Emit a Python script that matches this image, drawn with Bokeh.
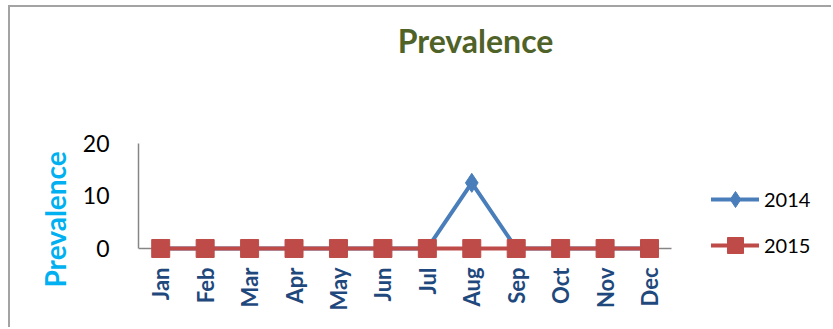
import math
from bokeh.plotting import figure
from bokeh.models import Range1d, FixedTicker, Legend, LegendItem, Title, Label
from bokeh.embed import file_html
from bokeh.resources import INLINE

months = ["Jan", "Feb", "Mar", "Apr", "May", "Jun", "Jul", "Aug", "Sep", "Oct", "Nov", "Dec"]
series_2014 = [0, 0, 0, 0, 0, 0, 0, 12.5, 0, 0, 0, 0]
series_2015 = [0, 0, 0, 0, 0, 0, 0, 0, 0, 0, 0, 0]
y_ticks = [0, 10, 20]
title_text = "Prevalence"
y_label = "Prevalence"

FONT = "Lato"
positions = list(range(len(months)))

# Frame covers the whole canvas right of the y axis so the title, the legend and the
# fixed-location x axis labels are drawn inside it.
p = figure(width=823, height=322, x_range=Range1d(-0.5, 15.14), y_range=Range1d(-15.43, 45.9),
           output_backend="svg", toolbar_location=None, title=None,
           min_border_left=128, min_border_right=0, min_border_top=0, min_border_bottom=0)
p.styles = {"border-left": "2px solid #a3a3a3", "border-top": "2px solid #a3a3a3",
            "margin-left": "8px", "margin-top": "5px"}
p.outline_line_color = None
p.grid.grid_line_color = None
p.background_fill_color = "white"
p.border_fill_color = "white"

# y axis
p.yaxis.ticker = FixedTicker(ticks=y_ticks)
p.yaxis.bounds = (0, 20)
p.yaxis.axis_line_color = "#868686"
p.yaxis.axis_line_width = 1.5
p.yaxis.major_tick_line_color = None
p.yaxis.minor_tick_line_color = None
p.yaxis.major_label_text_font = FONT
p.yaxis.major_label_text_font_size = "23px"
p.yaxis.major_label_text_color = "black"
p.yaxis.major_label_standoff = 23

p.add_layout(Title(text=y_label, align="left", offset=42, standoff=15,
                   text_font=FONT, text_font_size="28px", text_font_style="bold",
                   text_color="#00B0F0"), "left")

# x axis at y = 0
p.xaxis.ticker = FixedTicker(ticks=positions)
p.xaxis.major_label_overrides = {i: m for i, m in zip(positions, months)}
p.xaxis.fixed_location = 0
p.xaxis.bounds = (-0.5, len(months) - 0.5)
p.xaxis.level = "underlay"
p.xaxis.axis_line_color = "#868686"
p.xaxis.axis_line_width = 1.5
p.xaxis.major_tick_line_color = None
p.xaxis.minor_tick_line_color = None
p.xaxis.major_label_orientation = math.pi / 2
p.xaxis.major_label_text_font = FONT
p.xaxis.major_label_text_font_style = "bold"
p.xaxis.major_label_text_font_size = "22px"
p.xaxis.major_label_text_color = "#1F497D"
p.xaxis.major_label_standoff = 13

blue = "#4A7EBB"
red = "#BE4B48"
l1 = p.line(positions, series_2014, line_color=blue, line_width=4, line_cap="round", line_join="round")
m1 = p.scatter(positions, series_2014, marker="diamond", size=19, fill_color=blue, line_color=blue)
l2 = p.line(positions, series_2015, line_color=red, line_width=4, line_cap="round")
m2 = p.scatter(positions, series_2015, marker="square", size=18, fill_color=red, line_color=red)

legend = Legend(items=[LegendItem(label="2014", renderers=[l1, m1]),
                       LegendItem(label="2015", renderers=[l2, m2])],
                location=(573, 64), orientation="vertical",
                glyph_width=48, glyph_height=40, label_height=40, spacing=6,
                padding=0, margin=0, label_standoff=5,
                label_text_font=FONT, label_text_font_size="20px", label_text_color="black",
                border_line_color=None, background_fill_alpha=0)
p.add_layout(legend)

p.add_layout(Label(x=337, y=289, x_units="screen", y_units="screen", text=title_text,
                   text_align="center", text_baseline="alphabetic", text_font=FONT,
                   text_font_size="32px", text_font_style="bold", text_color="#4F6228"))

open("out.html", "w").write(file_html(p, INLINE))
